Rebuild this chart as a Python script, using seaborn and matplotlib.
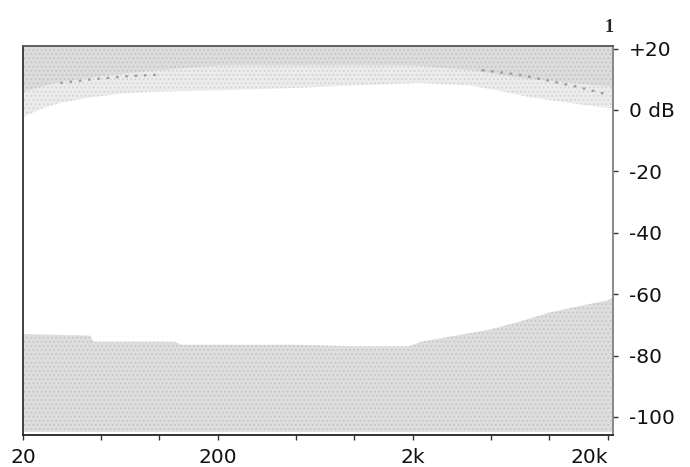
import matplotlib
matplotlib.use("Agg")
import matplotlib.pyplot as plt
from matplotlib.ticker import NullFormatter
import pandas as pd
import seaborn as sns

# frequency axis (Hz) and level limits (dB)
x_range = [19.9, 21200]
y_range = [-105.9, 20.85]

# lower edge of the light stipple at the top
top_freq = [20, 25, 31, 45, 68, 100, 230, 500, 1000, 2170, 3900, 5500, 7900, 12000, 18000, 21200]
top_edge = [-2.3, 0.5, 2.3, 4.2, 5.5, 6.0, 6.5, 7.2, 8.0, 8.8, 8.0, 6.3, 4.2, 2.5, 1.0, 0.6]

# lower edge of the dense stipple at the top
dense_freq = [20, 30, 50, 100, 200, 2000, 4000, 7000, 12000, 21200]
dense_edge = [6.0, 9.0, 11.0, 13.0, 14.5, 14.5, 13.0, 10.5, 9.0, 7.5]

# upper edge of the stipple at the bottom
low_freq = [20, 44, 46, 120, 130, 500, 1000, 1900, 2200, 3000, 5000, 7000, 10000, 14000, 20000, 21200]
low_edge = [-73.0, -73.5, -75.5, -75.5, -76.5, -76.5, -77.0, -77.0, -75.5, -74.0, -71.5, -69.0, -66.0, -64.0, -62.0, -61.0]

# dotted traces inside the top band
trace_left_freq = [31, 45, 68, 100]
trace_left_db = [8.8, 10.0, 11.0, 11.5]
trace_right_freq = [4500, 7000, 10000, 14000, 20000]
trace_right_db = [13.0, 11.5, 9.5, 7.5, 5.0]

x_major = [20, 200, 2000, 20000]
x_major_labels = ["20", "200", "2k", "20k"]
x_minor = [50, 100, 500, 1000, 5000, 10000]
y_ticks = [20, 0, -20, -40, -60, -80, -100]
y_labels = ["+20", "0 dB", "-20", "-40", "-60", "-80", "-100"]


def main():
    sns.set_theme(style="white")
    plt.rcParams["font.family"] = ["DejaVu Sans"]
    plt.rcParams["hatch.linewidth"] = 0.8

    fig = plt.figure(figsize=(6.9, 4.67), dpi=100)
    ax = fig.add_axes([22.7 / 690, 1 - 435 / 467, 590.3 / 690, 389 / 467])

    ax.fill_between(top_freq, top_edge, y_range[1], facecolor="#ececec",
                    edgecolor="#d2d2d2", hatch="....", linewidth=0)
    ax.fill_between(dense_freq, dense_edge, y_range[1], facecolor="#dcdcdc",
                    edgecolor="#c4c4c4", hatch="....", linewidth=0)
    ax.fill_between(low_freq, y_range[0] + 1.0, low_edge, facecolor="#dedede",
                    edgecolor="#c6c6c6", hatch="....", linewidth=0)

    for fx, fy in [(trace_left_freq, trace_left_db), (trace_right_freq, trace_right_db)]:
        sns.lineplot(data=pd.DataFrame({"f": fx, "db": fy}), x="f", y="db",
                     color="#9a9a9a", linewidth=1.6, linestyle=(0, (1.2, 3)), ax=ax)

    ax.set_xscale("log")
    ax.set_xlim(x_range)
    ax.set_ylim(y_range)
    ax.set_xticks(x_major)
    ax.set_xticklabels(x_major_labels)
    ax.set_xticks(x_minor, minor=True)
    ax.xaxis.set_minor_formatter(NullFormatter())
    ax.set_yticks(y_ticks)
    ax.set_yticklabels(y_labels)
    ax.yaxis.tick_right()
    ax.set_xlabel("")
    ax.set_ylabel("")
    ax.tick_params(axis="both", which="both", direction="out", length=3.5,
                   width=1, color="#333333", labelsize=14.5, labelcolor="#111111")
    ax.tick_params(axis="x", which="both", pad=6, bottom=True)
    ax.tick_params(axis="y", pad=8, right=True, left=False)
    for lab in ax.get_yticklabels():
        lab.set_horizontalalignment("left")
    ax.get_xticklabels()[-1].set_horizontalalignment("right")

    for side, col in [("left", "#333333"), ("bottom", "#222222"),
                      ("top", "#555555"), ("right", "#808080")]:
        ax.spines[side].set_visible(True)
        ax.spines[side].set_color(col)
        ax.spines[side].set_linewidth(1.3)

    fig.text(609 / 690, 1 - 28 / 467, "1", family="Liberation Serif",
             fontweight="bold", fontsize=13, ha="center", va="center")

    fig.savefig("out.png", dpi=100, facecolor="white")
    plt.close(fig)


if __name__ == "__main__":
    main()
